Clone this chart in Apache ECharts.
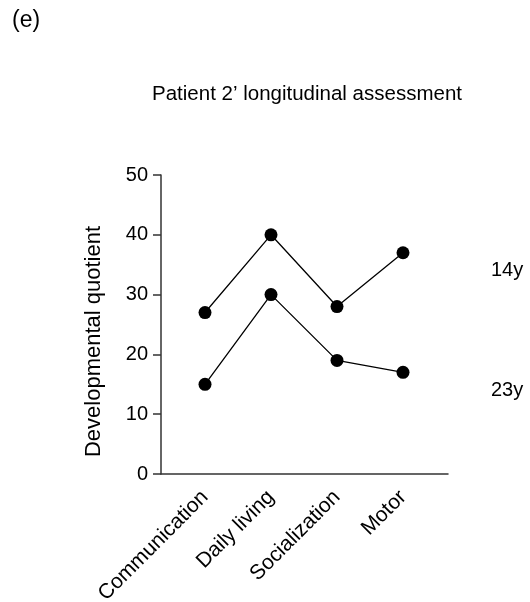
<!DOCTYPE html>
<html>
<head>
<meta charset="utf-8">
<script src="https://cdn.jsdelivr.net/npm/echarts@6/dist/echarts.min.js"></script>
<style>
html,body{margin:0;padding:0;background:#fff;}
#chart{width:530px;height:602px;}
</style>
</head>
<body>
<div id="chart"></div>
<script>
const categories = ['Communication', 'Daily living', 'Socialization', 'Motor'];
const seriesNames = ['14y', '23y'];
const values14y = [27, 40, 28, 37];
const values23y = [15, 30, 19, 17];
const yTicks = [0, 10, 20, 30, 40, 50];

const FONT = 'Liberation Sans, Arial, Helvetica, sans-serif';
const chart = echarts.init(document.getElementById('chart'), null, {renderer: 'canvas'});

const lineSeries = (name, data) => ({
  name: name,
  type: 'line',
  xAxisIndex: 1,
  yAxisIndex: 1,
  data: data,
  symbol: 'circle',
  symbolSize: 13,
  itemStyle: {color: '#000'},
  lineStyle: {color: '#000', width: 1.3},
  animation: false,
  endLabel: {
    show: true,
    formatter: '{a}',
    color: '#000',
    fontFamily: FONT,
    fontSize: 20,
    align: 'left',
    verticalAlign: 'middle',
    distance: 0,
    offset: [88, 18]
  }
});

chart.setOption({
  backgroundColor: '#fff',
  animation: false,
  title: [
    {text: '(e)', left: 7, top: 4, textStyle: {fontFamily: FONT, fontSize: 23, fontWeight: 'normal', color: '#000'}},
    {text: "Patient 2\u2019 longitudinal assessment", left: 302, top: 79, textAlign: 'center',
     textStyle: {fontFamily: FONT, fontSize: 20.5, fontWeight: 'normal', color: '#000'}}
  ],
  grid: [
    {left: 161, right: 82, top: 175, bottom: 128, containLabel: false, outerBoundsMode: 'none'},
    {left: 172, right: 94, top: 175, bottom: 128, containLabel: false, outerBoundsMode: 'none'}
  ],
  xAxis: [
    {
      type: 'value', gridIndex: 0, min: 0, max: 1,
      axisLine: {show: true, lineStyle: {color: '#333', width: 1.5}},
      axisTick: {show: false}, axisLabel: {show: false}, splitLine: {show: false}
    },
    {
      type: 'category', gridIndex: 1, data: categories, boundaryGap: true,
      axisLine: {show: false}, axisTick: {show: false}, splitLine: {show: false},
      axisLabel: {rotate: 45, margin: 20, fontFamily: FONT, fontSize: 21, color: '#000', interval: 0}
    }
  ],
  yAxis: [
    {
      type: 'value', gridIndex: 0, min: 0, max: 50, interval: 10,
      name: 'Developmental quotient', nameLocation: 'middle', nameGap: 56,
      nameTextStyle: {fontFamily: FONT, fontSize: 22, color: '#000', padding: [0, 34, 0, 0]},
      axisLine: {show: true, lineStyle: {color: '#333', width: 1.5}},
      axisTick: {show: true, length: 8, lineStyle: {color: '#333', width: 1.5}},
      axisLabel: {margin: 13, fontFamily: FONT, fontSize: 20, color: '#000',
                  formatter: v => yTicks.includes(v) ? String(v) : ''},
      splitLine: {show: false}
    },
    {
      type: 'value', gridIndex: 1, min: 0, max: 50, interval: 10, show: false
    }
  ],
  series: [
    lineSeries(seriesNames[0], values14y),
    lineSeries(seriesNames[1], values23y)
  ]
});
</script>
</body>
</html>
